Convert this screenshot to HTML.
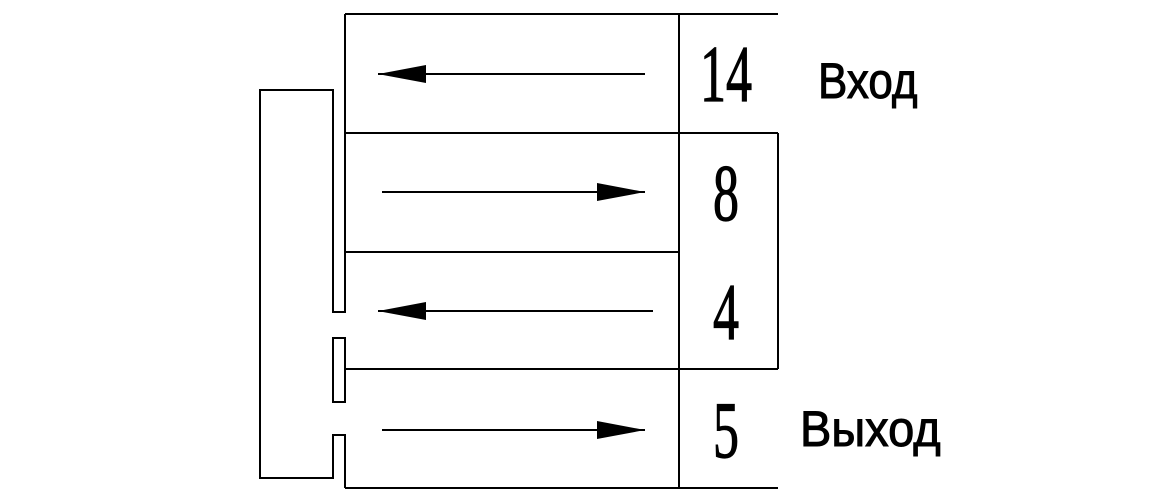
<!DOCTYPE html>
<html><head><meta charset="utf-8"><style>
html,body{margin:0;padding:0;background:#fff;width:1170px;height:500px;overflow:hidden}
</style></head><body>
<svg width="1170" height="500" viewBox="0 0 1170 500" xmlns="http://www.w3.org/2000/svg">
<g stroke="#000" stroke-width="2" fill="none">
<line x1="345" y1="14" x2="778" y2="14"/>
<line x1="345" y1="133" x2="778" y2="133"/>
<line x1="345" y1="252" x2="679" y2="252"/>
<line x1="345" y1="369" x2="778" y2="369"/>
<line x1="345" y1="488" x2="778" y2="488"/>
<line x1="679" y1="14" x2="679" y2="488"/>
<line x1="778" y1="133" x2="778" y2="369"/>
<polyline points="345,14 345,312 333,312 333,90 260,90 260,478 333,478 333,435 345,435 345,488"/>
<rect x="333" y="338" width="12" height="64"/>
<line x1="378" y1="74" x2="645" y2="74"/>
<line x1="382" y1="192" x2="645" y2="192"/>
<line x1="378" y1="311" x2="653" y2="311"/>
<line x1="382" y1="430" x2="645" y2="430"/>
</g>
<g fill="#000">
<polygon points="378,74 426,65 426,83"/>
<polygon points="645,192 597,183 597,201"/>
<polygon points="378,311 426,302 426,320"/>
<polygon points="645,430 597,421 597,439"/>
</g>
<g font-family="Liberation Serif, serif" font-size="80" text-anchor="middle" stroke="#000" stroke-width="1.2">
<text transform="translate(726,101) scale(0.65,1)">14</text>
<text transform="translate(726,220) scale(0.65,1)">8</text>
<text transform="translate(726,339) scale(0.65,1)">4</text>
<text transform="translate(726,457) scale(0.65,1)">5</text>
</g>
<g font-family="Liberation Sans, sans-serif" font-size="50" stroke="#000" stroke-width="1">
<text transform="translate(818,98) scale(0.88,1)">Вход</text>
<text transform="translate(800,446) scale(0.94,1)">Выход</text>
</g>
</svg>
</body></html>
